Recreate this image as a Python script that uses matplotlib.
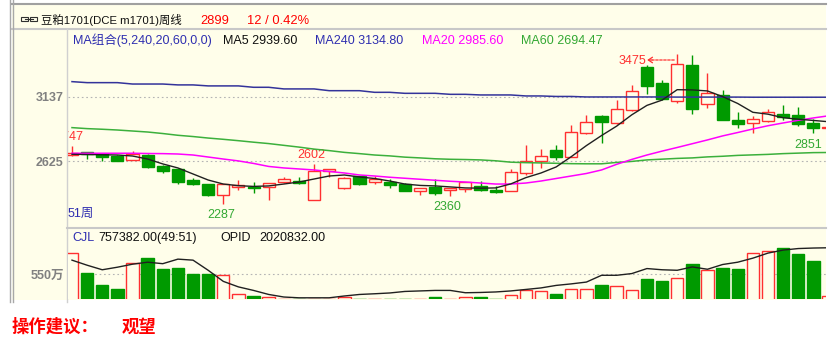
import numpy as np
import matplotlib
matplotlib.use('Agg')
import matplotlib.pyplot as plt
from matplotlib.patches import Rectangle
from matplotlib.transforms import offset_copy

plt.rcParams['font.family'] = ['Liberation Sans', 'Noto Sans CJK SC']

# 豆粕1701 周K线 (开, 高, 低, 收)
opens = [2675, 2697, 2681, 2670, 2636, 2679, 2590, 2561, 2476, 2442,
         2357, 2423, 2423, 2418, 2458, 2468, 2317, 2544, 2410, 2504,
         2458, 2463, 2442, 2389, 2423, 2397, 2402, 2429, 2397, 2391,
         2530, 2628, 2711, 2662, 2853, 2986, 2932, 3037, 3378, 3251,
         3105, 3392, 3079, 3153, 2954, 2932, 2946, 3002, 2994, 2932, 2890]
highs = [2747, 2700, 2684, 2672, 2710, 2683, 2592, 2565, 2490, 2445,
         2446, 2476, 2460, 2453, 2503, 2500, 2602, 2565, 2503, 2508,
         2508, 2484, 2455, 2413, 2484, 2413, 2461, 2468, 2429, 2564,
         2757, 2721, 2755, 2914, 2994, 2990, 3113, 3233, 3390, 3272,
         3475, 3471, 3330, 3193, 3020, 2986, 3039, 3073, 3055, 2959, 2910]
lows = [2667, 2644, 2628, 2625, 2632, 2568, 2535, 2444, 2436, 2349,
        2287, 2397, 2370, 2317, 2455, 2447, 2315, 2500, 2408, 2440,
        2444, 2415, 2386, 2357, 2360, 2349, 2381, 2389, 2376, 2386,
        2516, 2570, 2636, 2658, 2842, 2768, 2922, 3025, 3158, 3115,
        3092, 3002, 3047, 2950, 2888, 2853, 2940, 2954, 2906, 2851, 2880]
closes = [2694, 2686, 2662, 2628, 2686, 2576, 2550, 2463, 2442, 2357,
          2442, 2434, 2413, 2450, 2484, 2450, 2548, 2562, 2490, 2444,
          2484, 2437, 2389, 2410, 2375, 2410, 2458, 2397, 2378, 2540,
          2628, 2667, 2662, 2862, 2936, 2940, 3041, 3187, 3227, 3119,
          3400, 3039, 3166, 2954, 2920, 2959, 3015, 2975, 2920, 2887, 2899]

# 均线
ma5 = [2681, 2679, 2677, 2675, 2667, 2643, 2604, 2572, 2524, 2476,
       2444, 2431, 2425, 2429, 2444, 2460, 2484, 2508, 2516, 2500,
       2488, 2468, 2444, 2433, 2429, 2421, 2413, 2411, 2413, 2445,
       2495, 2532, 2580, 2662, 2750, 2830, 2905, 2995, 3070, 3112,
       3195, 3193, 3185, 3140, 3085, 3015, 3000, 2972, 2960, 2950, 2940]
ma20 = [2689, 2689, 2689, 2689, 2689, 2687, 2686, 2683, 2675, 2659,
        2643, 2628, 2608, 2584, 2572, 2564, 2556, 2544, 2532, 2516,
        2508, 2498, 2490, 2482, 2474, 2466, 2460, 2452, 2444, 2444,
        2452, 2468, 2488, 2508, 2528, 2556, 2601, 2640, 2675, 2706,
        2735, 2765, 2795, 2827, 2854, 2882, 2908, 2930, 2951, 2970, 2987]
ma60 = [2893, 2885, 2880, 2874, 2866, 2858, 2846, 2832, 2822, 2810,
        2800, 2789, 2777, 2766, 2752, 2738, 2722, 2710, 2696, 2686,
        2675, 2668, 2658, 2652, 2645, 2641, 2639, 2636, 2629, 2618,
        2614, 2612, 2609, 2606, 2605, 2605, 2616, 2624, 2636, 2642,
        2648, 2652, 2660, 2665, 2672, 2676, 2680, 2686, 2690, 2694, 2695]
ma240 = [3259, 3251, 3251, 3251, 3240, 3240, 3240, 3233, 3233, 3225,
         3225, 3225, 3214, 3214, 3201, 3201, 3201, 3187, 3187, 3187,
         3174, 3174, 3166, 3166, 3166, 3158, 3158, 3153, 3153, 3153,
         3145, 3145, 3141, 3141, 3137, 3137, 3137, 3137, 3137, 3137,
         3136, 3136, 3136, 3136, 3136, 3135, 3135, 3135, 3135, 3135, 3135]

# 成交量 (万手) 和持仓曲线 (按成交量面板刻度读出)
volumes = [1005, 579, 319, 232, 788, 905, 666, 688, 558, 558,
           521, 124, 72, 65, 15, 12, 15, 12, 60, 15,
           12, 15, 12, 15, 50, 15, 50, 50, 15, 101,
           195, 174, 124, 232, 232, 319, 289, 195, 449, 391,
           471, 775, 629, 688, 666, 1005, 1042, 1100, 970, 825, 75.7]
opid = [848, 739, 641, 696, 761, 804, 772, 870, 848, 630,
        391, 272, 196, 109, 54, 37, 37, 37, 76, 109,
        124, 141, 174, 185, 196, 196, 146, 152, 163, 185,
        217, 250, 304, 337, 376, 522, 522, 559, 667, 641,
        630, 702, 652, 754, 804, 891, 1000, 1065, 1098, 1109, 1115]

price_ticks = [2625, 3137]
vol_ticks = [550]
vol_tick_labels = ['550万']

# 颜色
BG = '#fffeea'
RED = '#ff3030'
GREEN = '#009a00'
GREEN_TXT = '#33a833'
BLUE = '#33339a'
BLUE_TXT = '#2e2eb0'
MAGENTA = '#ff00ff'

W, H = 830, 347
fig = plt.figure(figsize=(W / 100, H / 100), dpi=100)
fig.patch.set_facecolor('white')


# 以像素坐标添加坐标轴
def px_axes(x0, y0, x1, y1):
    return fig.add_axes([x0 / W, 1 - y1 / H, (x1 - x0) / W, (y1 - y0) / H])


# 背景与边框
bg = px_axes(0, 0, W, H)
bg.set_xlim(0, W)
bg.set_ylim(H, 0)
bg.axis('off')
bg.add_patch(Rectangle((12, 3), 814, 297, facecolor=BG, edgecolor='none'))
bg.plot([12, 826], [3.5, 3.5], color='#a0a0a0', lw=1.5)
bg.plot([12, 826], [29, 29], color='#c8c8c8', lw=1.5)
bg.plot([10, 10], [0, 302], color='#a8a8a8', lw=1)
bg.plot([12.5, 12.5], [0, 302], color='#a8a8a8', lw=1)
bg.plot([67, 67], [29, 302], color='#d0d0d0', lw=1)
bg.plot([67, 826], [227.5, 227.5], color='#c8c8c8', lw=1.5)

# 标题行
bg.add_patch(Rectangle((21, 16.5), 7, 4.5, fill=False, ec='#303030', lw=0.8))
bg.add_patch(Rectangle((30, 16.5), 7, 4.5, fill=False, ec='#303030', lw=0.8))
bg.plot([25, 33], [18.75, 18.75], color='#303030', lw=0.8)
bg.text(41, 20, '豆粕1701(DCE m1701)周线', fontsize=8.2, va='center', color='#101010')
bg.text(200, 20.5, '2899', fontsize=9.3, va='center', color='#ff0000')
bg.text(247, 20.5, '12 / 0.42%', fontsize=9.3, va='center', color='#ff0000')

# 均线图例
bg.text(72.7, 40.5, 'MA组合(5,240,20,60,0,0)', fontsize=9, va='center', color=BLUE_TXT)
bg.text(222.7, 40.5, 'MA5 2939.60', fontsize=9, va='center', color='#101010')
bg.text(315, 40.5, 'MA240 3134.80', fontsize=9, va='center', color=BLUE_TXT)
bg.text(421.7, 40.5, 'MA20 2985.60', fontsize=9, va='center', color=MAGENTA)
bg.text(520.7, 40.5, 'MA60 2694.47', fontsize=9, va='center', color=GREEN_TXT)
bg.text(68, 214, '51周', fontsize=9, va='center', color=BLUE_TXT)

# 成交量图例
bg.text(72.7, 238.3, 'CJL', fontsize=9, va='center', color=BLUE_TXT)
bg.text(98, 238.3, '757382.00(49:51)', fontsize=9, va='center', color='#101010')
bg.text(220, 238.3, 'OPID', fontsize=9, va='center', color='#101010')
bg.text(259, 238.3, '2020832.00', fontsize=9, va='center', color='#101010')

# 操作建议
bg.text(12, 327, '操作建议：', fontsize=12.5, fontweight='bold', va='center',
        color='#ff0000', family='Noto Sans CJK SC')
bg.text(122, 327, '观望', fontsize=12.5, fontweight='bold', va='center',
        color='#ff0000', family='Noto Sans CJK SC')

# K线区
x = np.arange(len(closes))
o = np.array(opens)
c = np.array(closes)
up = c >= o
edge = np.where(up, RED, GREEN)
face = np.where(up, BG, GREEN)

pax = px_axes(68, 30, 826, 227)
pax.set_facecolor('none')
pax.set_xlim(-0.264, 49.835)
pax.set_ylim(2102, 3670)

for p in price_ticks:
    pax.axhline(p, color='#b4b4b4', lw=0.8, ls=(0, (1.5, 2.5)), zorder=1)

pax.vlines(x, lows, highs, colors=edge, lw=1, zorder=2)
pax.bar(x, np.maximum(np.abs(c - o), 1), bottom=np.minimum(o, c), width=0.8,
        color=face, edgecolor=edge, lw=1, zorder=3)

pax.plot(x, ma240, color=BLUE, lw=1.1, zorder=4)
pax.plot(x, ma60, color='#3cb03c', lw=1.1, zorder=4)
pax.plot(x, ma20, color=MAGENTA, lw=1.1, zorder=4)
pax.plot(x, ma5, color='#202020', lw=1.0, zorder=5)

# 高低点标注 (第一个被左边界截掉一半)
pax.annotate('2747', xy=(0, highs[0]), xytext=(11, 9), textcoords='offset pixels',
             ha='right', va='center', fontsize=9, color=RED, clip_on=True)
pax.annotate('2287', xy=(10, lows[10]), xytext=(-2, -11), textcoords='offset pixels',
             ha='center', va='center', fontsize=9, color=GREEN_TXT)
pax.annotate('2602', xy=(16, highs[16]), xytext=(-3, 9), textcoords='offset pixels',
             ha='center', va='center', fontsize=9, color=RED)
pax.annotate('2360', xy=(24, lows[24]), xytext=(12, -12.5), textcoords='offset pixels',
             ha='center', va='center', fontsize=9, color=GREEN_TXT)
pax.annotate('2851', xy=(49, lows[49]), xytext=(9, -12), textcoords='offset pixels',
             ha='right', va='center', fontsize=9, color=GREEN_TXT)
pax.annotate('3475', xy=(40, highs[40]), xytext=(-31, -6.5), textcoords='offset pixels',
             ha='right', va='center', fontsize=9, color=RED)
# 最高点的虚线箭头 (水平, 与标注同高)
head = offset_copy(pax.transData, fig=fig, x=-30, y=-5.5, units='dots')
mid = offset_copy(pax.transData, fig=fig, x=-25, y=-5.5, units='dots')
tail = offset_copy(pax.transData, fig=fig, x=-3, y=-5.5, units='dots')
pax.annotate('', xy=(40, highs[40]), xycoords=mid, xytext=(40, highs[40]), textcoords=tail,
             arrowprops=dict(arrowstyle='-', color=RED, lw=0.9, ls=(0, (2, 1.2)),
                             shrinkA=0, shrinkB=0))
pax.annotate('', xy=(40, highs[40]), xycoords=head, xytext=(40, highs[40]), textcoords=mid,
             arrowprops=dict(arrowstyle='->,head_length=0.3,head_width=0.2', color=RED,
                             lw=0.9, shrinkA=0, shrinkB=0))

pax.set_xticks([])
pax.set_yticks(price_ticks)
pax.tick_params(axis='y', length=0, pad=3, labelsize=9, labelcolor='#808080')
for lab in pax.get_yticklabels():
    lab.set_fontweight('bold')
for s in pax.spines.values():
    s.set_visible(False)

# 成交量区 (底部被截断, 很小的量看不到)
vax = px_axes(68, 244, 826, 298.5)
vax.set_facecolor('none')
vax.set_xlim(-0.264, 49.835)
vax.set_ylim(22, 1196)
vax.axhline(vol_ticks[0], color='#b4b4b4', lw=0.8, ls=(0, (1.5, 2.5)), zorder=1)
vax.bar(x, volumes, width=0.82, color=face, edgecolor=edge, lw=1, zorder=2)
vax.plot(x, opid, color='#202020', lw=1.0, zorder=3)
vax.set_xticks([])
vax.set_yticks(vol_ticks)
vax.set_yticklabels(vol_tick_labels)
vax.tick_params(axis='y', length=0, pad=3, labelsize=9, labelcolor='#808080')
for lab in vax.get_yticklabels():
    lab.set_fontweight('bold')
for s in vax.spines.values():
    s.set_visible(False)

fig.savefig('out.png', dpi=100, facecolor='white')
